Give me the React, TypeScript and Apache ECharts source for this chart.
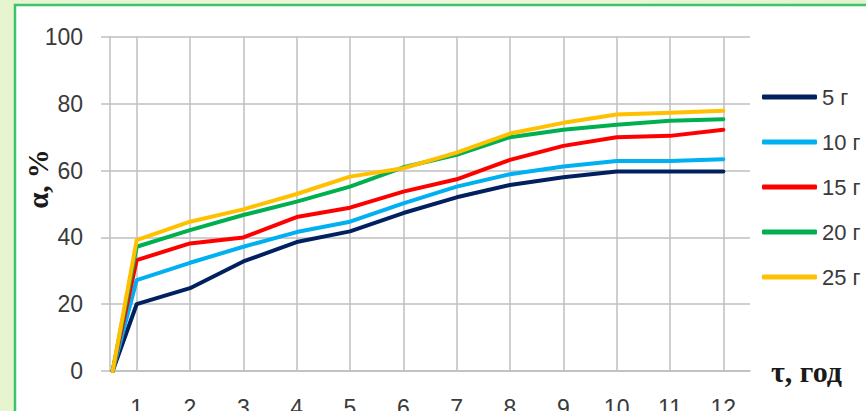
import React, { useEffect, useRef } from "react";
import * as echarts from "echarts";

// Time points (years); the first point sits just inside the axis at zero
const startX = 0.55;
const years = [1, 2, 3, 4, 5, 6, 7, 8, 9, 10, 11, 12];
const seriesNames = ["5 г", "10 г", "15 г", "20 г", "25 г"];
const values5 = [20, 24.8, 32.8, 38.6, 41.8, 47.3, 52, 55.7, 58, 59.7, 59.7, 59.7];
const values10 = [27.2, 32.4, 37.2, 41.6, 44.7, 50.2, 55.2, 58.9, 61.2, 62.9, 62.9, 63.4];
const values15 = [33.2, 38.2, 40, 46.1, 48.9, 53.7, 57.4, 63.2, 67.4, 70, 70.4, 72.2];
const values20 = [37.2, 42.2, 46.7, 50.7, 55.2, 61, 64.7, 70, 72.2, 73.7, 74.9, 75.4];
const values25 = [39.2, 44.7, 48.4, 53, 58.2, 60.7, 65.4, 71.1, 74.3, 76.8, 77.3, 77.9];
const yTicks = [0, 20, 40, 60, 80, 100];
const colors = ["#002060", "#00b0f0", "#ff0000", "#00b050", "#ffc000"];

const allValues = [values5, values10, values15, values20, values25];

const sansFont = "'Liberation Sans', Arial, sans-serif";
const serifFont = "'Liberation Serif', 'Times New Roman', serif";
const gridColor = "#bfbfbf";
const textColor = "#3a3a3a";

export default function App() {
  const ref = useRef<HTMLDivElement>(null);

  useEffect(() => {
    if (!ref.current) return;
    const chart = echarts.init(ref.current, null, { renderer: "svg" });

    const series = allValues.map((vals, i) => ({
      name: seriesNames[i],
      type: "line",
      symbol: "none",
      data: [[startX, 0], ...years.map((x, j) => [x, vals[j]])],
      lineStyle: { color: colors[i], width: 4, cap: "round", join: "round" },
      itemStyle: { color: colors[i] },
      z: 3 + i,
    }));

    chart.setOption({
      animation: false,
      backgroundColor: {
        type: "linear",
        x: 0,
        y: 0,
        x2: 1,
        y2: 0,
        colorStops: [
          { offset: 0, color: "#e6f4cf" },
          { offset: 0.5, color: "#eef8dc" },
          { offset: 1, color: "#e4f3cc" },
        ],
      },
      graphic: [
        {
          type: "rect",
          shape: { x: 15, y: 5, width: 900, height: 500 },
          style: { fill: "#ffffff", stroke: "#3cc46c", lineWidth: 2.5 },
          z: -10,
          silent: true,
        },
        {
          // vertical axis title
          type: "text",
          x: 38,
          y: 179,
          rotation: Math.PI / 2,
          style: {
            text: "α, %",
            fontFamily: serifFont,
            fontWeight: "bold",
            fontSize: 29,
            fill: "#1a1a1a",
            align: "center",
            verticalAlign: "middle",
          },
          silent: true,
        },
      ],
      grid: {
        left: 110,
        top: 37,
        right: 116,
        bottom: 40,
        containLabel: false,
        outerBoundsMode: "none",
      },
      xAxis: {
        type: "value",
        min: 0.5,
        max: 12.5,
        name: "τ, год",
        nameLocation: "end",
        nameGap: 21,
        nameTextStyle: {
          fontFamily: serifFont,
          fontWeight: "bold",
          fontSize: 30,
          color: "#1a1a1a",
          verticalAlign: "middle",
          align: "left",
        },
        axisLine: { show: true, lineStyle: { color: gridColor, width: 1.5 } },
        axisTick: { show: false, customValues: years },
        axisLabel: {
          customValues: years,
          fontFamily: sansFont,
          fontSize: 23,
          color: textColor,
          margin: 25,
        },
        splitLine: { show: true, lineStyle: { color: gridColor, width: 1.5 } },
      },
      yAxis: {
        type: "value",
        min: yTicks[0],
        max: yTicks[yTicks.length - 1],
        interval: 20,
        axisLine: { show: true, lineStyle: { color: gridColor, width: 1.5 } },
        axisTick: { show: true, length: 9, lineStyle: { color: gridColor, width: 1.5 } },
        axisLabel: {
          fontFamily: sansFont,
          fontSize: 23,
          color: textColor,
          margin: 27,
        },
        splitLine: { show: true, lineStyle: { color: gridColor, width: 1.5 } },
      },
      legend: {
        orient: "vertical",
        left: 757,
        top: 78,
        icon: "roundRect",
        itemWidth: 55,
        itemHeight: 5,
        itemGap: 17,
        textStyle: {
          fontFamily: sansFont,
          fontSize: 22,
          color: textColor,
          lineHeight: 28,
        },
        data: seriesNames.map((n, i) => ({ name: n, itemStyle: { color: colors[i] } })),
      },
      series,
    });

    return () => chart.dispose();
  }, []);

  return (
    <div
      ref={ref}
      style={{ position: "absolute", left: 0, top: 0, width: 866, height: 411 }}
    />
  );
}
